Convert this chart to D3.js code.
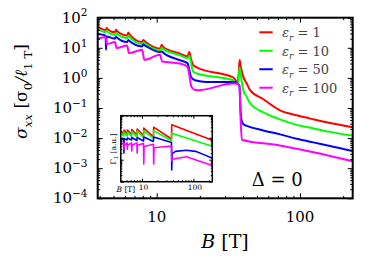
<!DOCTYPE html>
<html><head><meta charset="utf-8">
<script src="https://cdn.jsdelivr.net/npm/d3@7"></script>
<style>body{margin:0;background:#fff;} svg{display:block;}</style>
</head><body>
<script>
// ---------- data (B in tesla, value) ----------
const legendLabels = ["1", "10", "50", "100"];
const seriesColors = ["#ff0000", "#00ff00", "#0000ff", "#ff00ff"];

const mainRed = [[3.88,50],[4.40,38.9],[4.48,45.4],[4.56,40.4],[5.12,32.6],[5.20,39.8],[5.30,35.2],[6.22,25.5],[6.34,32.1],[6.48,27.5],[7.92,15.5],[8.06,18.1],[8.30,16.1],[10.55,9.26],[10.84,12.6],[11.1,10.6],[14.5,6.41],[16.4,5.17],[16.89,7.2],[17.36,4.2],[18.0,2.65],[22.3,1.71],[27.7,1.40],[34.2,1.03],[36.6,0.747],[37.5,1.8],[37.9,3.9],[38.5,2.45],[39.1,1.8],[40.2,1.08],[42.5,0.65],[44.8,0.39],[55.5,0.195],[72.5,0.0838],[94.8,0.0571],[123.8,0.042],[161.8,0.0316],[233,0.0229]];
const mainGreen = [[3.88,42],[4.40,33.4],[4.48,37.4],[4.56,33.4],[5.12,26.5],[5.20,30.9],[5.30,28.6],[6.22,21],[6.34,25.5],[6.48,22.7],[7.92,13.3],[8.06,14.9],[8.30,13.8],[10.55,8.07],[10.84,10.2],[11.1,9.05],[14.5,5.71],[16.4,4.54],[16.89,5.3],[17.36,3.09],[18.0,1.58],[22.3,1.17],[27.7,1.03],[34.2,0.838],[36.6,0.64],[37.5,1.23],[37.9,2.19],[38.5,1.44],[39.1,0.84],[40.2,0.39],[42.5,0.233],[44.8,0.144],[55.5,0.072],[72.5,0.042],[94.8,0.0275],[123.8,0.021],[161.8,0.0161],[233,0.0121]];
const mainBlue = [[3.88,28.6],[4.40,25.5],[4.43,8.6],[4.47,23.6],[5.10,20],[5.20,23.3],[5.30,21.5],[6.20,15.5],[6.34,18.1],[6.46,16.7],[7.90,11.1],[8.06,12.8],[8.30,11.8],[10.55,7.2],[10.84,7.6],[11.2,6.66],[14.5,3.89],[16.4,3.09],[16.9,1.8],[17.4,1.05],[18.5,0.84],[22.3,0.735],[34.2,0.735],[36.6,0.665],[37.8,0.53],[38.3,0.123],[39.1,0.039],[40.2,0.0286],[42.5,0.0255],[55.5,0.018],[72.5,0.0133],[94.8,0.0095],[123.8,0.0072],[161.8,0.0055],[233,0.0037]];
const mainMagenta = [[3.88,20],[4.40,22.7],[4.48,13.3],[5.12,15.5],[5.25,9.8],[6.22,12],[6.40,6.66],[7.92,8.58],[8.2,3.98],[10.55,5.84],[10.9,3.52],[14.5,3.02],[16.4,2.33],[16.9,1.23],[17.4,0.53],[18.3,0.404],[19.5,0.39],[34.2,0.65],[36.6,0.64],[37.8,0.53],[38.5,0.039],[39.3,0.00885],[72.5,0.0057],[123.8,0.0034],[233,0.0017]];

const insetRed = [[3.88,2.02],[4.45,1.47],[4.48,2.24],[5.15,1.47],[5.2,2.24],[6.28,1.40],[6.34,2.36],[7.98,1.33],[8.06,2.48],[10.7,1.26],[10.84,2.76],[16.7,1.10],[16.89,3.0],[37.5,0.87],[37.9,3.9],[233,0.77]];
const insetGreen = [[3.88,1.64],[4.45,1.19],[4.48,1.82],[5.15,1.19],[5.2,1.82],[6.28,1.13],[6.34,1.91],[7.98,1.08],[8.06,2.02],[10.7,1.02],[10.84,2.12],[16.7,0.92],[16.89,2.1],[37.5,0.73],[37.9,1.58],[233,0.406]];
const insetBlue = [[3.88,0.92],[4.40,0.83],[4.45,0.2],[4.50,0.92],[5.15,0.785],[5.2,0.97],[6.28,0.785],[6.34,1.02],[7.98,0.746],[8.06,1.02],[10.7,0.708],[10.84,1.08],[16.7,0.67],[16.89,1.08],[37.5,0.60],[37.9,0.034],[38.6,0.19],[45,0.24],[73,0.27],[110,0.24],[160,0.17],[233,0.116]];
const insetMagenta = [[3.88,0.50],[4.44,0.58],[4.48,0.30],[4.55,0.45],[5.15,0.58],[5.2,0.30],[5.27,0.45],[6.28,0.58],[6.34,0.25],[6.42,0.45],[7.98,0.58],[8.06,0.20],[8.16,0.45],[10.7,0.55],[10.84,0.064],[11.0,0.40],[16.7,0.50],[16.89,0.064],[17.2,0.35],[37.5,0.42],[37.9,0.09],[38.6,0.105],[73,0.137],[233,0.054]];

const mainSeries = [mainRed, mainGreen, mainBlue, mainMagenta];
const insetSeries = [insetRed, insetGreen, insetBlue, insetMagenta];

const xMajor = [10, 100];
const yMajor = [1e-4, 1e-3, 1e-2, 1e-1, 1, 10, 100];
const yExponents = ["−4", "−3", "−2", "−1", "0", "1", "2"];

// ---------- drawing ----------
const W = 374, H = 262;
const FONT = "DejaVu Serif";
const svg = d3.select("body").append("svg").attr("width", W).attr("height", H);

const P = {l: 97.7, r: 352.7, t: 17.7, b: 198.3};
const x = d3.scaleLog().domain([3.876, 233]).range([P.l, P.r]);
const y = d3.scaleLog().domain([1e-4, 1e2]).range([P.b, P.t]);

function minorTicks(lo, hi) {
  const out = [];
  for (let e = Math.floor(Math.log10(lo)); e <= Math.ceil(Math.log10(hi)); e++) {
    for (let k = 2; k <= 9; k++) {
      const v = k * Math.pow(10, e);
      if (v > lo && v < hi) out.push(v);
    }
  }
  return out;
}

function rich(sel, parts, fs) {
  sel.attr("font-family", FONT);
  let shift = 0;
  parts.forEach(p => {
    const target = p.sub ? 0.28 * fs : p.sup ? -0.42 * fs : 0;
    const ts = sel.append("tspan").text(p.t).attr("dy", target - shift);
    shift = target;
    if (p.sub || p.sup) ts.attr("font-size", fs * 0.7);
    if (p.i) ts.attr("font-style", "italic");
  });
}

function drawTicks(g, xs, ys, xMaj, yMaj, xMin, yMin, L, l) {
  const [x0, x1] = xs.range(), [y0, y1] = ys.range();
  g.append("g").attr("transform", `translate(0,${y0})`)
    .call(d3.axisBottom(xs).tickValues(xMin).tickSize(-l).tickFormat(""));
  g.append("g").attr("transform", `translate(0,${y0})`)
    .call(d3.axisBottom(xs).tickValues(xMaj).tickSize(-L).tickFormat(""));
  g.append("g").attr("transform", `translate(0,${y1})`)
    .call(d3.axisTop(xs).tickValues(xMin).tickSize(-l).tickFormat(""));
  g.append("g").attr("transform", `translate(0,${y1})`)
    .call(d3.axisTop(xs).tickValues(xMaj).tickSize(-L).tickFormat(""));
  g.append("g").attr("transform", `translate(${x0},0)`)
    .call(d3.axisLeft(ys).tickValues(yMin).tickSize(-l).tickFormat(""));
  g.append("g").attr("transform", `translate(${x0},0)`)
    .call(d3.axisLeft(ys).tickValues(yMaj).tickSize(-L).tickFormat(""));
  g.append("g").attr("transform", `translate(${x1},0)`)
    .call(d3.axisRight(ys).tickValues(yMin).tickSize(-l).tickFormat(""));
  g.append("g").attr("transform", `translate(${x1},0)`)
    .call(d3.axisRight(ys).tickValues(yMaj).tickSize(-L).tickFormat(""));
  g.selectAll(".domain").remove();
  g.selectAll(".tick line").attr("stroke", "#000").attr("stroke-width", 1);
}

svg.append("clipPath").attr("id", "clipMain").append("rect")
  .attr("x", P.l).attr("y", P.t).attr("width", P.r - P.l).attr("height", P.b - P.t);

const line = d3.line().x(d => x(d[0])).y(d => y(d[1])).curve(d3.curveMonotoneX);
const gMain = svg.append("g").attr("clip-path", "url(#clipMain)");
mainSeries.forEach((s, i) => {
  gMain.append("path").datum(s).attr("d", line).attr("fill", "none")
    .attr("stroke", seriesColors[i]).attr("stroke-width", 2).attr("stroke-linejoin", "round");
});

drawTicks(svg.append("g"), x, y, xMajor, yMajor, minorTicks(3.876, 233), minorTicks(1e-4, 1e2), 5, 2.5);
svg.append("rect").attr("x", P.l).attr("y", P.t).attr("width", P.r - P.l).attr("height", P.b - P.t)
  .attr("fill", "none").attr("stroke", "#000").attr("stroke-width", 2);

yMajor.forEach((v, i) => {
  const t = svg.append("text").attr("x", 87.5).attr("y", y(v) + 5).attr("text-anchor", "end")
    .attr("font-size", 15);
  rich(t, [{t: "10"}, {t: yExponents[i], sup: true}], 15);
});
xMajor.forEach(v => {
  svg.append("text").attr("x", x(v)).attr("y", 222).attr("text-anchor", "middle")
    .attr("font-family", FONT).attr("font-size", 15).text(v);
});

const xt = svg.append("text").attr("x", 225).attr("y", 248).attr("text-anchor", "middle").attr("font-size", 19);
rich(xt, [{t: "B", i: true}, {t: " [T]"}], 19);
const yt = svg.append("text").attr("transform", "translate(27,91.5) rotate(-90)").attr("text-anchor", "middle").attr("font-size", 17);
rich(yt, [{t: "σ", i: true}, {t: "xx", i: true, sub: true}, {t: " [σ"}, {t: "0", sub: true}, {t: "/ℓ", i: true}, {t: "1 T", sub: true}, {t: "]"}], 17);

legendLabels.forEach((lab, i) => {
  const ly = 32.3 + i * 18.47;
  svg.append("line").attr("x1", 259.3).attr("x2", 272.7).attr("y1", ly).attr("y2", ly)
    .attr("stroke", seriesColors[i]).attr("stroke-width", 2);
  const t = svg.append("text").attr("x", 282).attr("y", ly + 5).attr("font-size", 13).attr("fill", "#444");
  rich(t, [{t: "ε", i: true}, {t: "r", i: true, sub: true}, {t: " = " + lab}], 13);
});

svg.append("text").attr("x", 251.7).attr("y", 186).attr("font-family", FONT).attr("font-size", 18).text("Δ = 0");

// ---------- inset ----------
const I = {l: 120.8, r: 212.3, t: 115.7, b: 181.7};
const xi = d3.scaleLog().domain([3.876, 233]).range([I.l, I.r]);
const yi = d3.scaleLog().domain([0.01, 10]).range([I.b, I.t]);
svg.append("rect").attr("x", I.l).attr("y", I.t).attr("width", I.r - I.l).attr("height", I.b - I.t)
  .attr("fill", "#fff");
svg.append("clipPath").attr("id", "clipInset").append("rect")
  .attr("x", I.l).attr("y", I.t).attr("width", I.r - I.l).attr("height", I.b - I.t);
const lineI = d3.line().x(d => xi(d[0])).y(d => yi(d[1]));
const gIn = svg.append("g").attr("clip-path", "url(#clipInset)");
insetSeries.forEach((s, i) => {
  gIn.append("path").datum(s).attr("d", lineI).attr("fill", "none")
    .attr("stroke", seriesColors[i]).attr("stroke-width", 1.6).attr("stroke-linejoin", "round");
});
drawTicks(svg.append("g"), xi, yi, xMajor, [0.01, 0.1, 1, 10], minorTicks(3.876, 233), minorTicks(0.01, 10), 3, 1.5);
svg.append("rect").attr("x", I.l).attr("y", I.t).attr("width", I.r - I.l).attr("height", I.b - I.t)
  .attr("fill", "none").attr("stroke", "#000").attr("stroke-width", 1.5);

xMajor.forEach(v => {
  svg.append("text").attr("x", xi(v) + 1.5).attr("y", 190).attr("text-anchor", "middle")
    .attr("font-family", FONT).attr("font-size", 7.5).text(v);
});
const ixt = svg.append("text").attr("x", 116.5).attr("y", 191.5).attr("font-size", 7.5);
rich(ixt, [{t: "B", i: true}, {t: " [T]"}], 7.5);
const iyt = svg.append("text").attr("transform", "translate(115.5,149) rotate(-90)").attr("text-anchor", "middle").attr("font-size", 7.5);
rich(iyt, [{t: "Γ"}, {t: "1", sub: true}, {t: " [a.u.]"}], 7.5);
</script>
</body></html>
